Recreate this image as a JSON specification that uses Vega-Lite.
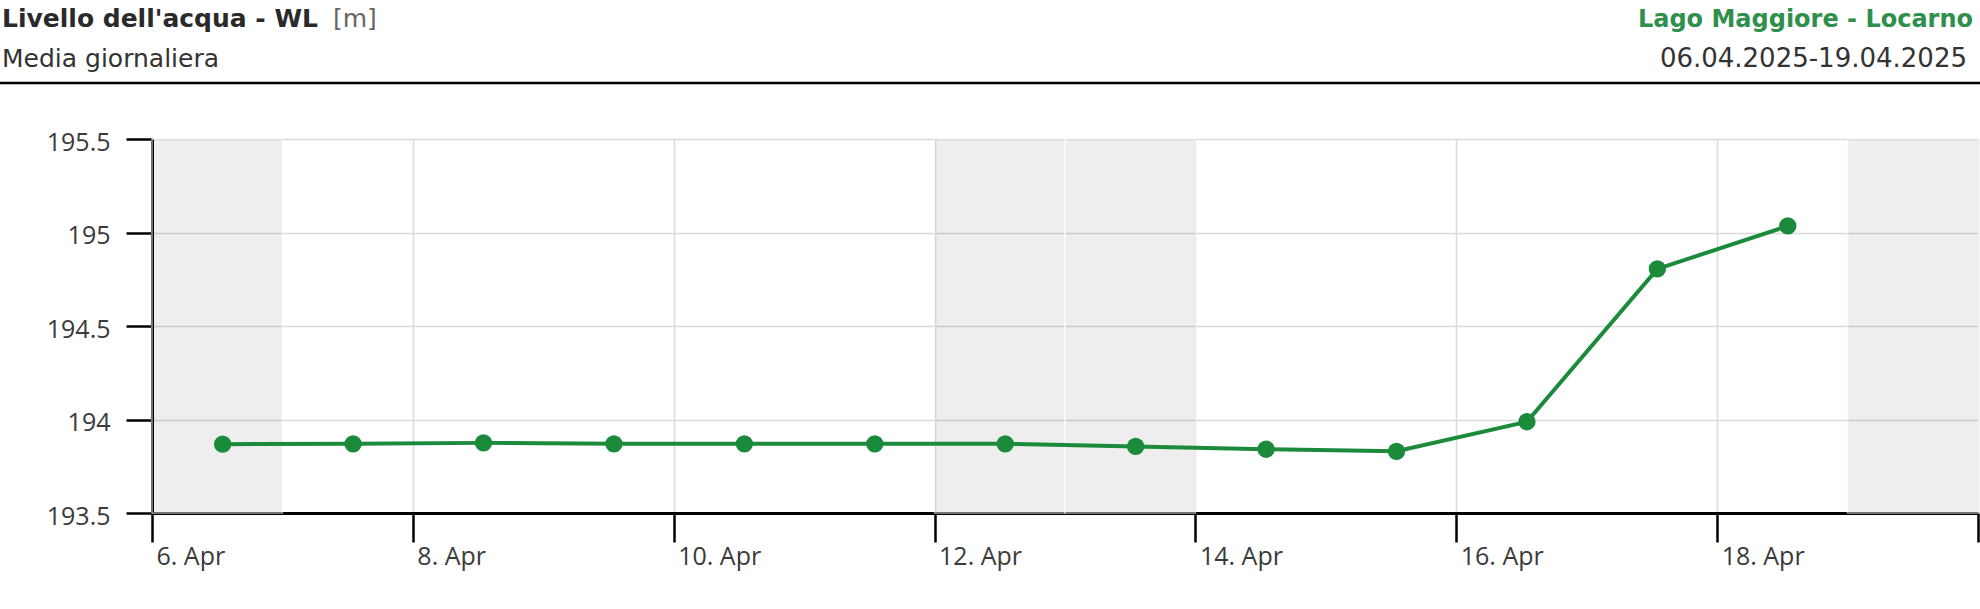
{
  "$schema": "https://vega.github.io/schema/vega-lite/v6.json",
  "width": 1826,
  "height": 374,
  "autosize": {"type": "none"},
  "padding": {"left": 152, "top": 139, "right": 2, "bottom": 96},
  "background": "white",
  "config": {"view": {"stroke": null}, "font": "Open Sans"},
  "datasets": {
    "level": [
      {"date": "2025-04-06T13:00", "wl": 193.868},
      {"date": "2025-04-07T13:00", "wl": 193.870},
      {"date": "2025-04-08T13:00", "wl": 193.875},
      {"date": "2025-04-09T13:00", "wl": 193.870},
      {"date": "2025-04-10T13:00", "wl": 193.870},
      {"date": "2025-04-11T13:00", "wl": 193.870},
      {"date": "2025-04-12T13:00", "wl": 193.870},
      {"date": "2025-04-13T13:00", "wl": 193.856},
      {"date": "2025-04-14T13:00", "wl": 193.841},
      {"date": "2025-04-15T13:00", "wl": 193.830},
      {"date": "2025-04-16T13:00", "wl": 193.988},
      {"date": "2025-04-17T13:00", "wl": 194.805},
      {"date": "2025-04-18T13:00", "wl": 195.035}
    ],
    "weekend": [
      {"start": "2025-04-06T00:00", "end": "2025-04-07T00:00"},
      {"start": "2025-04-12T00:00", "end": "2025-04-13T00:00"},
      {"start": "2025-04-13T00:00", "end": "2025-04-14T00:00"},
      {"start": "2025-04-19T00:00", "end": "2025-04-20T00:00"}
    ]
  },
  "layer": [
    {
      "data": {"name": "weekend"},
      "mark": {"type": "rect", "fill": "#000000", "fillOpacity": 0.066, "stroke": "#ffffff", "strokeWidth": 1.5, "strokeOpacity": 0.6},
      "encoding": {
        "x": {
          "field": "start", "type": "temporal",
          "scale": {"domain": [{"year": 2025, "month": 4, "date": 6}, {"year": 2025, "month": 4, "date": 20}], "nice": false},
          "axis": {
            "values": [
              {"year": 2025, "month": 4, "date": 6}, {"year": 2025, "month": 4, "date": 8},
              {"year": 2025, "month": 4, "date": 10}, {"year": 2025, "month": 4, "date": 12},
              {"year": 2025, "month": 4, "date": 14}, {"year": 2025, "month": 4, "date": 16},
              {"year": 2025, "month": 4, "date": 18}, {"year": 2025, "month": 4, "date": 20}
            ],
            "format": "%-d. %b",
            "labelExpr": "date(datum.value) == 20 ? '' : datum.label",
            "title": null,
            "domainColor": "#000000", "domainWidth": 3,
            "tickColor": "#000000", "tickWidth": 2.5, "tickSize": 29,
            "labelAlign": "left", "labelBaseline": "top", "labelPadding": 2, "labelOffset": 4,
            "labelFont": "Open Sans", "labelFontSize": 25, "labelColor": "#3a3a3a",
            "labelFlush": false, "labelOverlap": false,
            "grid": true, "gridColor": "#d9d9d9", "gridWidth": 1.5
          }
        },
        "x2": {"field": "end"}
      }
    },
    {
      "data": {"name": "level"},
      "mark": {"type": "line", "color": "#1b8a3b", "strokeWidth": 4},
      "encoding": {
        "x": {"field": "date", "type": "temporal"},
        "y": {
          "field": "wl", "type": "quantitative",
          "scale": {"domain": [193.5, 195.5], "nice": false, "zero": false},
          "axis": {
            "values": [193.5, 194, 194.5, 195, 195.5],
            "format": "~g",
            "title": null,
            "domainColor": "#000000", "domainWidth": 3,
            "tickColor": "#000000", "tickWidth": 2.5, "tickSize": 26,
            "labelPadding": 16, "labelOffset": 3,
            "labelFont": "Open Sans", "labelFontSize": 25, "labelColor": "#3a3a3a",
            "grid": true, "gridColor": "#d9d9d9", "gridWidth": 1.5
          }
        }
      }
    },
    {
      "data": {"name": "level"},
      "mark": {"type": "circle", "size": 300, "color": "#1b8a3b", "opacity": 1},
      "encoding": {
        "x": {"field": "date", "type": "temporal"},
        "y": {"field": "wl", "type": "quantitative"}
      }
    },
    {
      "data": {"values": [{}]},
      "mark": {"type": "rule", "color": "#000000", "strokeWidth": 2.5, "xOffset": -152, "x2Offset": 2, "yOffset": -56, "y2Offset": -56},
      "encoding": {
        "x": {"datum": {"year": 2025, "month": 4, "date": 6}, "type": "temporal"},
        "x2": {"datum": {"year": 2025, "month": 4, "date": 20}},
        "y": {"datum": 195.5, "type": "quantitative"}
      }
    },
    {
      "data": {"values": [{}]},
      "mark": {"type": "text", "text": "Livello dell'acqua - WL", "align": "left", "baseline": "alphabetic", "dx": -150, "dy": -112, "fontSize": 25, "fontWeight": "bold", "color": "#2a2a2a", "font": "DejaVu Sans"},
      "encoding": {
        "x": {"datum": {"year": 2025, "month": 4, "date": 6}, "type": "temporal"},
        "y": {"datum": 195.5, "type": "quantitative"}
      }
    },
    {
      "data": {"values": [{}]},
      "mark": {"type": "text", "text": "[m]", "align": "left", "baseline": "alphabetic", "dx": 181, "dy": -112, "fontSize": 25, "fontWeight": "normal", "color": "#666666", "font": "DejaVu Sans"},
      "encoding": {
        "x": {"datum": {"year": 2025, "month": 4, "date": 6}, "type": "temporal"},
        "y": {"datum": 195.5, "type": "quantitative"}
      }
    },
    {
      "data": {"values": [{}]},
      "mark": {"type": "text", "text": "Media giornaliera", "align": "left", "baseline": "alphabetic", "dx": -150, "dy": -72, "fontSize": 25, "fontWeight": "normal", "color": "#333333", "font": "DejaVu Sans"},
      "encoding": {
        "x": {"datum": {"year": 2025, "month": 4, "date": 6}, "type": "temporal"},
        "y": {"datum": 195.5, "type": "quantitative"}
      }
    },
    {
      "data": {"values": [{}]},
      "mark": {"type": "text", "text": "Lago Maggiore - Locarno", "align": "right", "baseline": "alphabetic", "dx": -5, "dy": -112, "fontSize": 24, "fontWeight": "bold", "color": "#2f8f4c", "font": "DejaVu Sans"},
      "encoding": {
        "x": {"datum": {"year": 2025, "month": 4, "date": 20}, "type": "temporal"},
        "y": {"datum": 195.5, "type": "quantitative"}
      }
    },
    {
      "data": {"values": [{}]},
      "mark": {"type": "text", "text": "06.04.2025-19.04.2025", "align": "right", "baseline": "alphabetic", "dx": -11, "dy": -72, "fontSize": 26, "fontWeight": "normal", "color": "#333333", "font": "DejaVu Sans"},
      "encoding": {
        "x": {"datum": {"year": 2025, "month": 4, "date": 20}, "type": "temporal"},
        "y": {"datum": 195.5, "type": "quantitative"}
      }
    }
  ]
}
